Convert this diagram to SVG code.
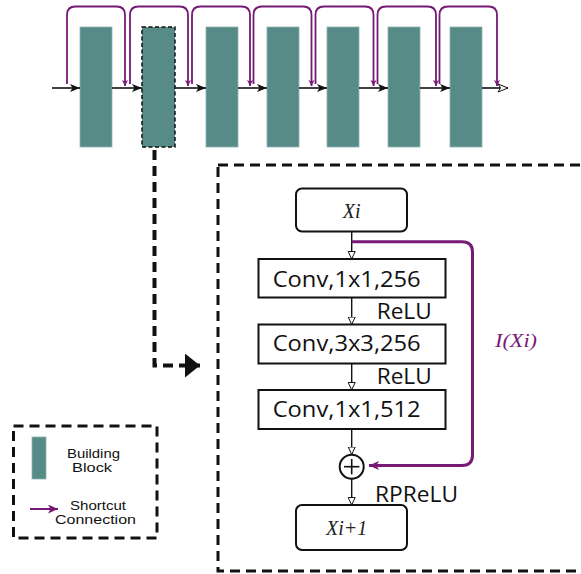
<svg xmlns="http://www.w3.org/2000/svg" width="581" height="574" viewBox="0 0 581 574">
<style>
.blk{fill:#568b88;stroke:#8fb5b2;stroke-width:0.8}
.main{stroke:#111;stroke-width:1.6;fill:none}
.loop{stroke:#761a76;stroke-width:1.8;fill:none}
.box{fill:#fff;stroke:#111;stroke-width:2}
.thin{stroke:#111;stroke-width:1.4;fill:none}
.conv{font-family:'Open Sans','Noto Sans',sans-serif;font-size:21px;fill:#111}
.act{font-family:'Open Sans','Noto Sans',sans-serif;font-size:21px;fill:#111}
.math{font-family:'Liberation Serif','DejaVu Serif',serif;font-style:italic;font-size:20px;fill:#222}
.leg{font-family:'Liberation Sans',Arial,sans-serif;font-size:12px;fill:#111}
.dash{fill:none;stroke:#111;stroke-width:3;stroke-dasharray:10,6}
</style>
<defs>
<marker id="ah" markerUnits="userSpaceOnUse" markerWidth="12" markerHeight="10" refX="10" refY="4" orient="auto"><path d="M0,0 L10,4 L0,8 L2.5,4 z" fill="#111"/></marker>
<marker id="ahOpen" markerUnits="userSpaceOnUse" markerWidth="14" markerHeight="12" refX="11" refY="5" orient="auto"><path d="M1,1 L11,5 L1,9 L3.5,5 z" fill="#fff" stroke="#111" stroke-width="1"/></marker>
<marker id="ahP" markerUnits="userSpaceOnUse" markerWidth="8" markerHeight="8" refX="6" refY="3" orient="auto"><path d="M0,0 L6,3 L0,6 L1.5,3 z" fill="#761a76"/></marker>
<marker id="ahPB" markerUnits="userSpaceOnUse" markerWidth="12" markerHeight="10" refX="10" refY="4.5" orient="auto"><path d="M0,0 L10,4.5 L0,9 L2.5,4.5 z" fill="#761a76"/></marker>
<marker id="ahT" markerUnits="userSpaceOnUse" markerWidth="10" markerHeight="10" refX="8" refY="4" orient="auto"><path d="M0.5,0.5 L8,4 L0.5,7.5 z" fill="#fff" stroke="#111" stroke-width="1"/></marker>
<marker id="ahBig" markerUnits="userSpaceOnUse" markerWidth="18" markerHeight="26" refX="15" refY="12" orient="auto"><path d="M0,0 L15,12 L0,24 z" fill="#111"/></marker>
</defs>

<g id="blocks">
<rect id="block1" class="blk" x="80" y="27" width="32" height="120"/>
<rect id="block2" x="142" y="27" width="33" height="120" fill="#568b88" stroke="#111" stroke-width="1.5" stroke-dasharray="4,2.5"/>
<rect id="block3" class="blk" x="206" y="27" width="32" height="120"/>
<rect id="block4" class="blk" x="267" y="27" width="32" height="120"/>
<rect id="block5" class="blk" x="327" y="27" width="32" height="120"/>
<rect id="block6" class="blk" x="388" y="27" width="32" height="120"/>
<rect id="block7" class="blk" x="450" y="27" width="32" height="120"/>
</g>

<g id="connectors">
<line class="main" x1="52" y1="88" x2="80" y2="88" marker-end="url(#ah)"/>
<line class="main" x1="112" y1="88" x2="142" y2="88" marker-end="url(#ah)"/>
<line class="main" x1="175" y1="88" x2="206" y2="88" marker-end="url(#ah)"/>
<line class="main" x1="238" y1="88" x2="267" y2="88" marker-end="url(#ah)"/>
<line class="main" x1="299" y1="88" x2="327" y2="88" marker-end="url(#ah)"/>
<line class="main" x1="359" y1="88" x2="388" y2="88" marker-end="url(#ah)"/>
<line class="main" x1="420" y1="88" x2="450" y2="88" marker-end="url(#ah)"/>
<line class="main" x1="482" y1="88" x2="508" y2="88" marker-end="url(#ahOpen)"/>

<path class="loop" d="M67,84 V15 Q67,6.5 75.5,6.5 H116.5 Q125,6.5 125,15 V86" marker-end="url(#ahP)"/>
<path class="loop" d="M130,84 V15 Q130,6.5 138.5,6.5 H179.5 Q188,6.5 188,15 V86" marker-end="url(#ahP)"/>
<path class="loop" d="M192,84 V15 Q192,6.5 200.5,6.5 H241.5 Q250,6.5 250,15 V86" marker-end="url(#ahP)"/>
<path class="loop" d="M253.5,84 V15 Q253.5,6.5 262,6.5 H303 Q311.5,6.5 311.5,15 V86" marker-end="url(#ahP)"/>
<path class="loop" d="M315.5,84 V15 Q315.5,6.5 324,6.5 H365 Q373.5,6.5 373.5,15 V86" marker-end="url(#ahP)"/>
<path class="loop" d="M377.5,84 V15 Q377.5,6.5 386,6.5 H427.5 Q436,6.5 436,15 V86" marker-end="url(#ahP)"/>
<path class="loop" d="M439.5,84 V15 Q439.5,6.5 448,6.5 H488.5 Q497,6.5 497,15 V86" marker-end="url(#ahP)"/>

<path d="M154.5,150 V365.5 H200" fill="none" stroke="#111" stroke-width="4" stroke-dasharray="10,6" marker-end="url(#ahBig)"/>

<line class="thin" x1="351.7" y1="232" x2="351.7" y2="259" marker-end="url(#ahT)"/>
<line class="thin" x1="351.7" y1="297.5" x2="351.7" y2="324.5" marker-end="url(#ahT)"/>
<line class="thin" x1="351.7" y1="363.5" x2="351.7" y2="390" marker-end="url(#ahT)"/>
<line class="thin" x1="351.7" y1="429" x2="351.7" y2="454.5" marker-end="url(#ahT)"/>
<line class="thin" x1="351.7" y1="479" x2="351.7" y2="505" marker-end="url(#ahT)"/>
<path d="M351.7,241.7 H462 Q472.5,241.7 472.5,252 V455 Q472.5,465.5 462,465.5 H369" fill="none" stroke="#761a76" stroke-width="3" marker-end="url(#ahPB)"/>
</g>

<rect id="detail-frame" class="dash" x="218" y="165" width="400" height="406"/>

<g id="node-xi">
<rect class="box" x="296" y="188.5" width="111" height="43" rx="6"/>
<text class="math" x="351.7" y="218" text-anchor="middle">Xi</text>
</g>
<g id="node-conv1">
<rect class="box" x="258.5" y="259" width="187" height="38.5"/>
<text class="conv" x="272.7" y="286.7" textLength="148" lengthAdjust="spacingAndGlyphs">Conv,1x1,256</text>
</g>
<text id="relu1" class="act" x="376.7" y="319.3" textLength="55" lengthAdjust="spacingAndGlyphs">ReLU</text>
<g id="node-conv2">
<rect class="box" x="258.5" y="324.5" width="187" height="39"/>
<text class="conv" x="272.7" y="350.5" textLength="148" lengthAdjust="spacingAndGlyphs">Conv,3x3,256</text>
</g>
<text id="relu2" class="act" x="376.7" y="384.3" textLength="55" lengthAdjust="spacingAndGlyphs">ReLU</text>
<g id="node-conv3">
<rect class="box" x="258.5" y="390" width="187" height="39"/>
<text class="conv" x="272.7" y="416.7" textLength="148" lengthAdjust="spacingAndGlyphs">Conv,1x1,512</text>
</g>
<g id="node-add">
<circle cx="351.7" cy="466.7" r="12" fill="#fff" stroke="#111" stroke-width="2"/>
<line x1="344" y1="466.7" x2="359.4" y2="466.7" stroke="#111" stroke-width="1.6"/>
<line x1="351.7" y1="459" x2="351.7" y2="474.4" stroke="#111" stroke-width="1.6"/>
</g>
<text id="rprelu" class="act" x="375" y="501.7" textLength="83" lengthAdjust="spacingAndGlyphs">RPReLU</text>
<g id="node-xi1">
<rect class="box" x="296" y="505" width="111" height="45" rx="6"/>
<text class="math" x="346.7" y="535" text-anchor="middle">Xi+1</text>
</g>
<text id="label-ixi" x="495" y="347" font-family="'Liberation Serif','DejaVu Serif',serif" font-style="italic" font-size="19" fill="#761a76" textLength="42" lengthAdjust="spacingAndGlyphs">I(Xi)</text>

<g id="legend">
<rect class="dash" x="13.5" y="426" width="143.5" height="112" stroke-dasharray="9,6"/>
<rect class="blk" x="32" y="437" width="14" height="42"/>
<text class="leg" x="67" y="457.5" textLength="53" lengthAdjust="spacingAndGlyphs">Building</text>
<text class="leg" x="72" y="471.5" textLength="40" lengthAdjust="spacingAndGlyphs">Block</text>
<line x1="30" y1="509" x2="58" y2="509" stroke="#761a76" stroke-width="2" marker-end="url(#ahPB)"/>
<text class="leg" x="70" y="509.5" textLength="56" lengthAdjust="spacingAndGlyphs">Shortcut</text>
<text class="leg" x="55" y="523.5" textLength="81" lengthAdjust="spacingAndGlyphs">Connection</text>
</g>
</svg>
